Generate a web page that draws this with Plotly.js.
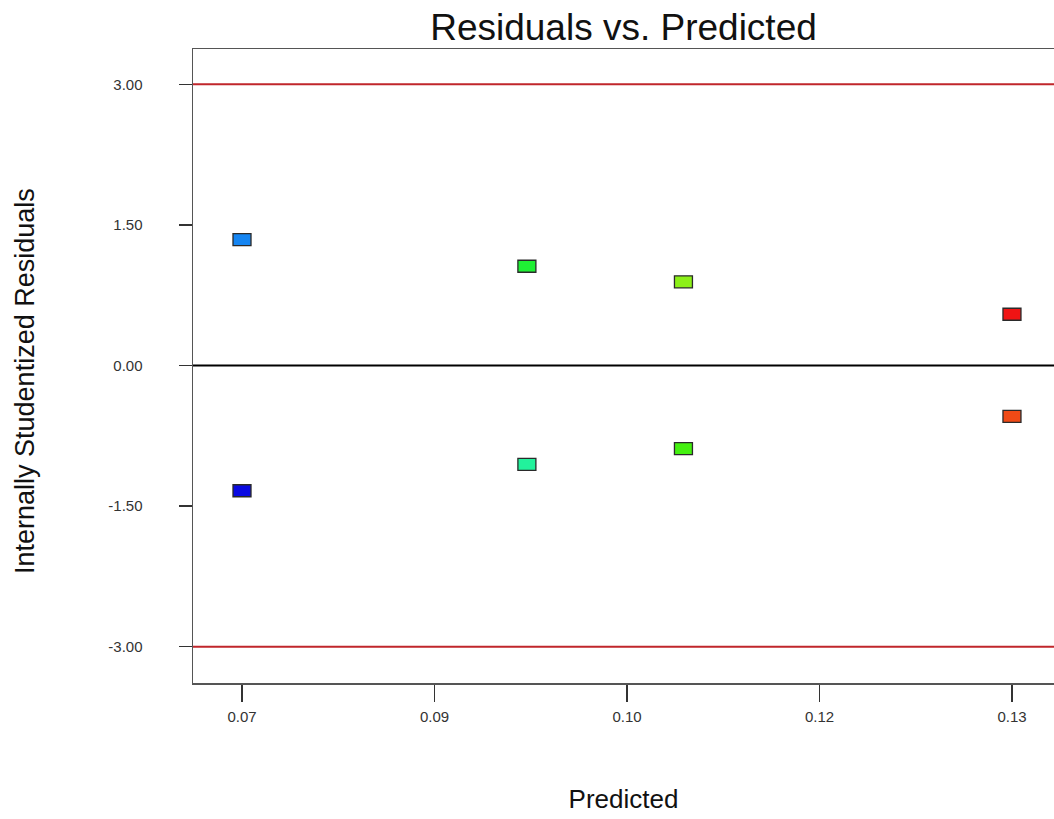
<!DOCTYPE html>
<html>
<head>
<meta charset="utf-8">
<script src="https://cdn.plot.ly/plotly-3.0.1.min.js"></script>
<style>
html,body{margin:0;padding:0;background:#fff;overflow:hidden;}
#chart{width:1054px;height:819px;}
</style>
</head>
<body>
<div id="chart"></div>
<script>
// Data
const predicted = [0.07, 0.07, 0.0922, 0.0922, 0.1044, 0.1044, 0.13, 0.13];
const residuals = [1.344, -1.336, 1.059, -1.054, 0.893, -0.886, 0.547, -0.542];
const pointColors = ["#1585f2", "#0a0ae2", "#1ff034", "#22f29c", "#8cf018", "#44f010", "#f01414", "#f04a16"];
const xTickVals = [0.07, 0.085, 0.10, 0.115, 0.13];
const xTickText = ["0.07", "0.09", "0.10", "0.12", "0.13"];
const yTickVals = [-3, -1.5, 0, 1.5, 3];
const yTickText = ["-3.00", "-1.50", "0.00", "1.50", "3.00"];
const limitLines = [3, -3];

const FONT = "Liberation Sans, Arial, sans-serif";

const shapes = [];
// limit lines
limitLines.forEach(v => shapes.push({
  type: "line", xref: "paper", x0: 0, x1: 1, yref: "y", y0: v, y1: v,
  line: {color: "#c0262b", width: 2}, layer: "below"
}));
// zero line
shapes.push({type: "line", xref: "paper", x0: 0, x1: 1, yref: "y", y0: 0, y1: 0,
  line: {color: "#000000", width: 2}, layer: "below"});
// rectangular markers anchored at data values
predicted.forEach((xv, i) => shapes.push({
  type: "rect",
  xref: "x", xsizemode: "pixel", xanchor: xv, x0: -9, x1: 9,
  yref: "y", ysizemode: "pixel", yanchor: residuals[i], y0: -6, y1: 6,
  fillcolor: pointColors[i], line: {color: "#2a2a2a", width: 1.3}
}));

const trace = {
  x: predicted, y: residuals, type: "scatter", mode: "markers",
  marker: {size: 1, opacity: 0}, hoverinfo: "x+y", showlegend: false
};

const layout = {
  width: 1054, height: 819,
  margin: {l: 193, r: 0, t: 49, b: 136},
  paper_bgcolor: "#ffffff", plot_bgcolor: "#ffffff",
  font: {family: FONT, color: "#222"},
  title: {
    text: "Residuals vs. Predicted",
    font: {family: FONT, size: 37, color: "#111"},
    xref: "paper", x: 0.5, xanchor: "center",
    yref: "container", y: 0.967, yanchor: "middle"
  },
  xaxis: {
    range: [0.066182, 0.133275],
    tickmode: "array", tickvals: xTickVals, ticktext: xTickText,
    ticks: "outside", ticklen: 17, tickwidth: 1.3, tickcolor: "#333",
    tickfont: {family: FONT, size: 15, color: "#333"},
    ticklabelstandoff: 2,
    showline: true, linecolor: "#555", linewidth: 1.5, mirror: true,
    showgrid: false, zeroline: false,
    title: {text: "Predicted", font: {family: FONT, size: 26, color: "#111"}, standoff: 66}
  },
  yaxis: {
    range: [-3.387, 3.377],
    tickmode: "array", tickvals: yTickVals, ticktext: yTickText,
    ticks: "outside", ticklen: 13, tickwidth: 1.3, tickcolor: "#333",
    tickfont: {family: FONT, size: 15, color: "#333"},
    ticklabelstandoff: 33,
    showline: true, linecolor: "#555", linewidth: 1.5, mirror: false,
    showgrid: false, zeroline: false
  },
  annotations: [{
    text: "Internally Studentized Residuals",
    textangle: -90, showarrow: false,
    xref: "paper", x: (25 - 193) / 861, xanchor: "center",
    yref: "paper", y: (683 - 381) / 634, yanchor: "middle",
    font: {family: FONT, size: 27, color: "#111"}
  }],
  shapes: shapes
};

Plotly.newPlot("chart", [trace], layout, {displayModeBar: false, staticPlot: true});
</script>
</body>
</html>
